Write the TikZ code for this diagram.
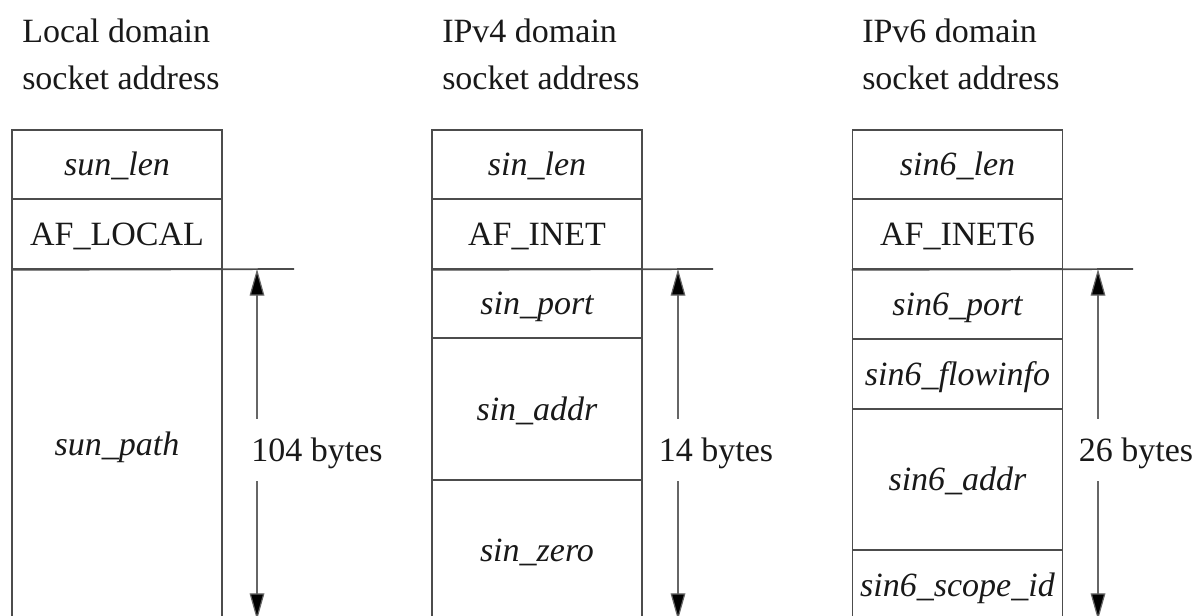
\documentclass[tikz,border=0pt]{standalone}
\usepackage{fontspec}
\setmainfont{Liberation Serif}
\usetikzlibrary{arrows.meta}
\tikzset{
  txt/.style={font=\fontsize{25.5}{30}\selectfont, text=black!90, inner sep=0pt},
  hdr/.style={txt, anchor=base west},
  field/.style={txt, draw=black!70, line width=1.3pt, minimum width=157.5pt,
    text height=17pt, text depth=0pt, font=\fontsize{25.5}{30}\selectfont\itshape},
  plainfield/.style={field, font=\fontsize{25.5}{30}\selectfont},
  ht/.style={minimum height=#1*0.75pt},
  sepline/.style={draw=black!70, line width=1.3pt},
  dimarrow/.style={draw=black!60, line width=0.9pt,
    {Triangle[length=20pt,width=11pt,fill=black]}-{Triangle[length=20pt,width=11pt,fill=black]}},
  lbl/.style={txt, fill=white, inner xsep=1pt, inner ysep=15pt, text height=17pt, text depth=0pt}
}
\begin{document}
\begin{tikzpicture}[x=0.75pt,y=-0.75pt]
\useasboundingbox (0,0) rectangle (1197,615);
\fill[white] (0,0) rectangle (1197,615);

% headings
\node[hdr] (h1a) at (22,42) {Local domain};
\node[hdr] (h1b) at (22,89) {socket address};
\node[hdr] (h2a) at (442,42) {IPv4 domain};
\node[hdr] (h2b) at (442,89) {socket address};
\node[hdr] (h3a) at (862,42) {IPv6 domain};
\node[hdr] (h3b) at (862,89) {socket address};

% column 1
\node[field, ht=69] (c1r1) at (117,164.5) {sun\_len};
\node[plainfield, ht=70] (c1r2) at (117,234) {AF\_LOCAL};
\node[field, ht=351] (c1r3) at (117,444.5) {sun\_path};
\coordinate (e1) at (294,269);
\draw[sepline] (c1r2.south west) -- (e1);
\coordinate (a1t) at (257,269);
\coordinate (a1b) at (257,620);
\draw[dimarrow] (a1b) -- (a1t);
\node[lbl] (l1) at (317,450) {104 bytes};

% column 2
\node[field, ht=69] (c2r1) at (537,164.5) {sin\_len};
\node[plainfield, ht=70] (c2r2) at (537,234) {AF\_INET};
\node[field, ht=69] (c2r3) at (537,303.5) {sin\_port};
\node[field, ht=142] (c2r4) at (537,409) {sin\_addr};
\node[field, ht=140] (c2r5) at (537,550) {sin\_zero};
\coordinate (e2) at (713,269);
\draw[sepline] (c2r2.south west) -- (e2);
\coordinate (a2t) at (678,269);
\coordinate (a2b) at (678,620);
\draw[dimarrow] (a2b) -- (a2t);
\node[lbl] (l2) at (716,450) {14 bytes};

% column 3
\node[field, ht=69] (c3r1) at (957.5,164.5) {sin6\_len};
\node[plainfield, ht=70] (c3r2) at (957.5,234) {AF\_INET6};
\node[field, ht=70] (c3r3) at (957.5,304) {sin6\_port};
\node[field, ht=70] (c3r4) at (957.5,374) {sin6\_flowinfo};
\node[field, ht=141] (c3r5) at (957.5,479.5) {sin6\_addr};
\node[field, ht=70] (c3r6) at (957.5,585) {sin6\_scope\_id};
\coordinate (e3) at (1133,269);
\draw[sepline] (c3r2.south west) -- (e3);
\coordinate (a3t) at (1098,269);
\coordinate (a3b) at (1098,620);
\draw[dimarrow] (a3b) -- (a3t);
\node[lbl] (l3) at (1136,450) {26 bytes};
\end{tikzpicture}
\end{document}
